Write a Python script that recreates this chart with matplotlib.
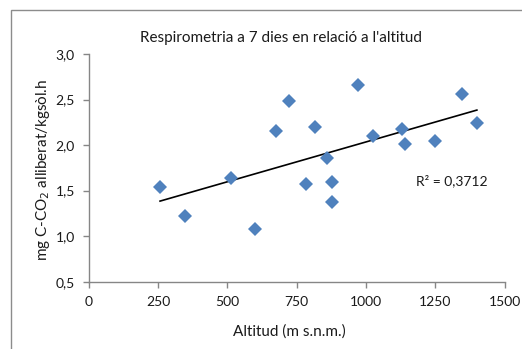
import numpy as np
import matplotlib
matplotlib.use("Agg")
import matplotlib.pyplot as plt
from matplotlib.patches import Rectangle

plt.rcParams['font.family'] = ['Lato', 'DejaVu Sans']

# data
altitud = [257, 348, 512, 600, 675, 722, 784, 815, 858, 876, 876, 972, 1025, 1129, 1140, 1249, 1347, 1400]
resp = [1.54, 1.22, 1.64, 1.08, 2.15, 2.48, 1.57, 2.20, 1.86, 1.59, 1.38, 2.66, 2.10, 2.18, 2.01, 2.05, 2.56, 2.24]
xticks = [0, 250, 500, 750, 1000, 1250, 1500]
yticks = [0.5, 1.0, 1.5, 2.0, 2.5, 3.0]
r2_text = "R² = 0,3712"

W, H = 522, 349
fig = plt.figure(figsize=(W / 100, H / 100), dpi=100)

# outer chart border
fig.patches.append(Rectangle((10.5 / W, -0.1), 1.2, 1.1 - 10.5 / H, transform=fig.transFigure,
                             fill=False, edgecolor='#8c8c8c', linewidth=1.0))

ax = fig.add_axes([88.8 / W, 1 - 281.7 / H, (504.6 - 88.8) / W, (281.7 - 54) / H])

ax.plot(altitud, resp, linestyle='none', marker='D', markersize=7,
        color='#4f81bd', markeredgewidth=0, zorder=3)

# linear trend line
a, b = np.polyfit(altitud, resp, 1)
xs = np.array([min(altitud), max(altitud)])
ax.plot(xs, a * xs + b, color='black', linewidth=1.2, zorder=2)

ax.set_xlim(0, 1500)
ax.set_ylim(0.5, 3.0)
ax.set_xticks(xticks)
ax.set_yticks(yticks)
ax.set_xticklabels([str(t) for t in xticks])
ax.set_yticklabels([f"{t:.1f}".replace('.', ',') for t in yticks])

for s in ['top', 'right']:
    ax.spines[s].set_visible(False)
for s in ['left', 'bottom']:
    ax.spines[s].set_color('#868686')
    ax.spines[s].set_linewidth(1.0)
ax.tick_params(axis='both', direction='out', length=4, width=1, color='#868686',
               labelsize=10, labelcolor='#1a1a1a')
ax.tick_params(axis='x', pad=6)
ax.tick_params(axis='y', pad=6)

fig.text(280.5 / W, 1 - 38 / H, "Respirometria a 7 dies en relació a l'altitud",
         ha='center', va='center', fontsize=11, color='#1a1a1a')
fig.text(289 / W, 1 - 331.7 / H, "Altitud (m s.n.m.)", ha='center', va='center',
         fontsize=11, color='#1a1a1a')
fig.text(42.7 / W, 1 - 170 / H, "mg C-CO$_2$ alliberat/kgsòl.h", ha='center', va='center',
         rotation=90, fontsize=11, color='#1a1a1a')
fig.text(452 / W, 1 - 181 / H, r2_text, ha='center', va='center',
         fontsize=10, color='#1a1a1a')

fig.savefig("out.png", dpi=100)
